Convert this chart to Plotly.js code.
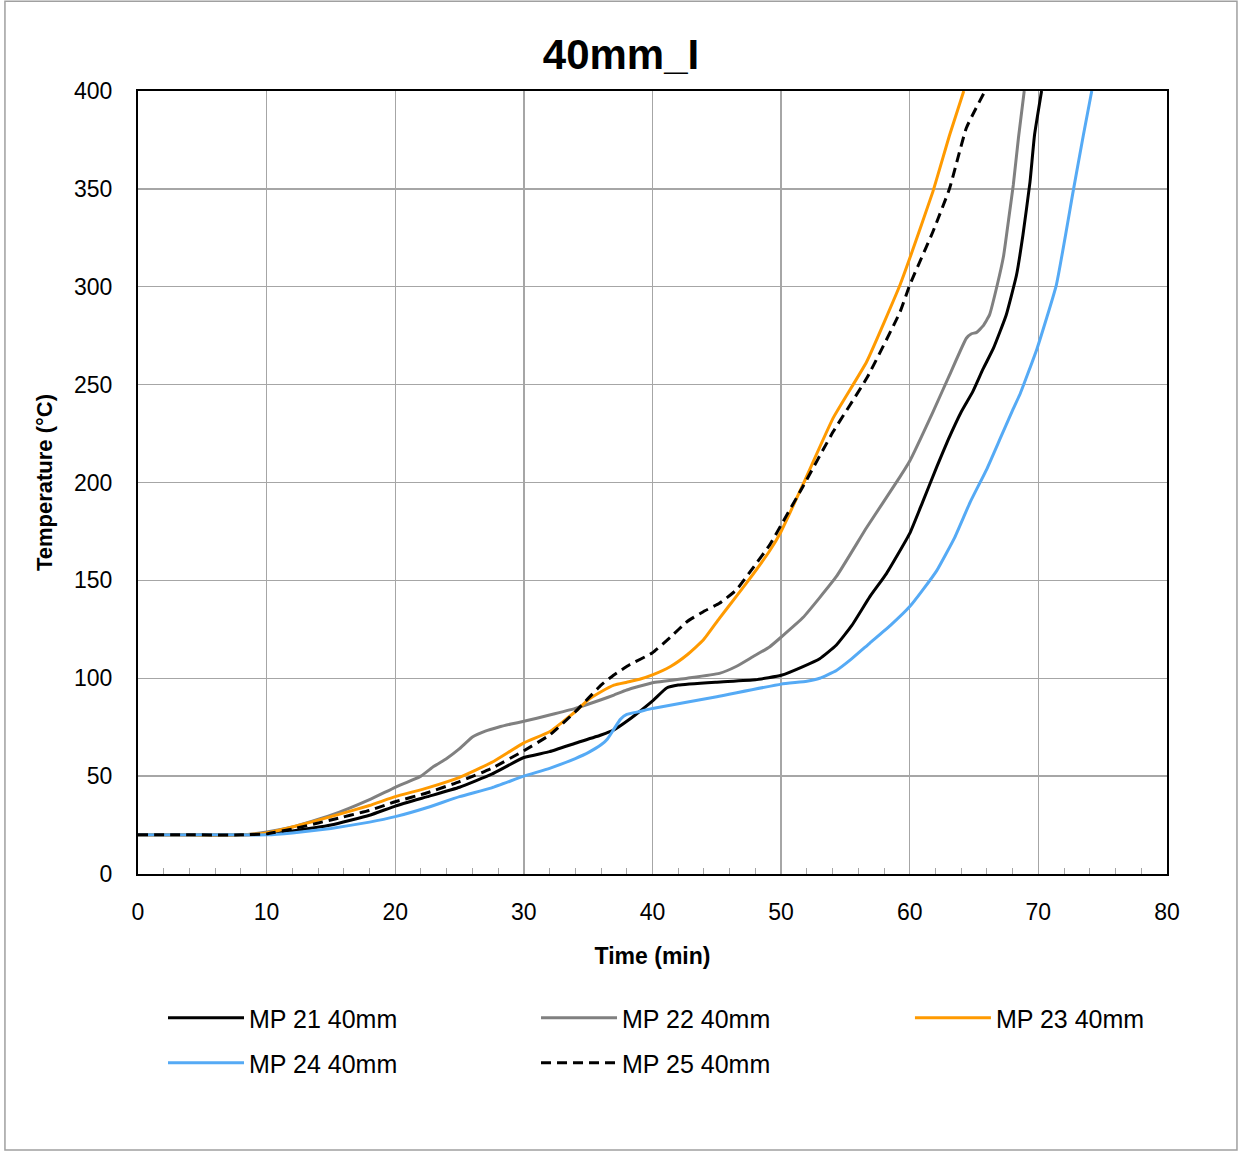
<!DOCTYPE html>
<html>
<head>
<meta charset="utf-8">
<script src="https://cdn.plot.ly/plotly-3.0.1.min.js"></script>
<style>
  html, body { margin: 0; padding: 0; background: #fff; }
  #chart { width: 1242px; height: 1153px; }
</style>
</head>
<body>
<div id="chart"></div>
<script>
// ---- data (time in min, temperature in °C) ----
const seriesNames = ["MP 21 40mm", "MP 22 40mm", "MP 23 40mm", "MP 24 40mm", "MP 25 40mm"];

const mp21_t = [0, 4, 8, 10, 12, 15, 18, 20, 22.5, 25, 27.5, 30, 32, 34, 36, 37, 38, 38.8, 40.1, 41.1, 42, 45, 48, 50, 51.7, 53, 54.3, 55.5, 56.9, 58.2, 60, 61, 62.1, 63, 64, 64.9, 65.7, 66.5, 67.5, 68.3, 68.8, 69.35, 69.7, 70.25];
const mp21_v = [20, 20, 20, 20.5, 22, 25, 30, 34.7, 39.5, 44.3, 51, 59.5, 62.5, 66.8, 71, 73.6, 78, 82, 89, 95, 96.5, 98, 99.2, 101.5, 106, 110, 117, 127, 141.7, 153.6, 174, 190, 208, 222, 236, 246.4, 258, 268.5, 285.6, 306, 326.4, 353.6, 377.5, 400];

const mp22_t = [0, 4, 8, 10, 12, 15, 18, 20, 22, 23, 24, 25, 26, 27, 28, 29, 30, 32, 34, 36, 37, 38, 40, 42.7, 45.2, 46.5, 47.8, 49.1, 50, 51.7, 54.3, 56.65, 59.25, 60, 61.8, 63.1, 64.4, 64.8, 65.2, 65.7, 66.2, 66.8, 67.3, 67.7, 68.05, 68.45, 68.9];
const mp22_v = [20, 20, 20, 21.5, 24, 30, 38, 44.3, 50, 55, 59, 64, 70, 73, 75, 76.6, 78, 81.2, 84.6, 89, 91.4, 94, 97.7, 100, 102.5, 106, 111, 116, 121, 131, 152, 177, 203, 211, 236, 255, 273.7, 276, 276.7, 280, 285.6, 300.9, 316, 335, 352, 376, 400];

const mp23_t = [0, 4, 8, 10, 12, 15, 18, 20, 22.5, 25, 27.5, 30, 32, 34, 35, 36, 37, 38, 39, 40, 41.4, 42.7, 43.95, 45.2, 46.5, 47.8, 49.1, 50, 51.7, 54.05, 56.65, 59.25, 60, 61.8, 63.1, 64.2];
const mp23_v = [20, 20, 20, 21, 24, 29.3, 35, 39.5, 44, 49.4, 57, 67, 72.7, 82.9, 89, 93.1, 96.5, 98, 99.5, 101.7, 106, 112, 119.5, 130.6, 141.7, 153, 165, 175, 199, 233, 261.7, 301, 314.5, 348.6, 377.5, 400];

const mp24_t = [0, 4, 8, 10, 12, 15, 18, 20, 22.5, 25, 27.5, 30, 32, 34, 35, 36, 36.5, 37, 37.5, 38, 39, 40, 45, 50, 52, 53, 54.3, 55.5, 56.9, 58.5, 60, 61, 62.1, 63.5, 64.7, 66, 67, 68, 68.6, 69.9, 71.4, 72.7, 73.5, 74.15];
const mp24_v = [20, 20, 20, 20, 21, 23.3, 26.5, 29.3, 34, 39.5, 44, 50, 54, 59, 62, 66, 69, 74, 79, 81.5, 83, 84.6, 90.6, 97, 98.5, 100, 104, 110, 118, 127, 136.6, 145, 155, 172, 190, 207, 222, 237, 245.6, 268.5, 301, 348.6, 377.5, 400];

const mp25_t = [0, 4, 8, 10, 12, 15, 18, 20, 22.5, 25, 27.5, 30, 32, 34, 35, 36, 37, 38.25, 40, 41.4, 42.7, 43.95, 45.2, 46.5, 47.8, 49.1, 50, 51.7, 54.05, 56.65, 59.25, 60, 61.8, 63.1, 64.4, 65.85];
const mp25_v = [20, 20, 20, 20.5, 23, 27.6, 32.5, 36.9, 41.5, 47.2, 54, 63, 71, 82.9, 89.7, 96.5, 101.7, 107, 113, 121, 129, 134, 138.3, 145, 156.3, 168, 178.3, 198, 226, 253.2, 287.2, 300.9, 328.1, 350.3, 381.1, 400];

const xTicks = [0, 10, 20, 30, 40, 50, 60, 70, 80];
const yTicks = [0, 50, 100, 150, 200, 250, 300, 350, 400];

// ---- styles ----
const colors = ["#000000", "#808080", "#FF9A00", "#55AAF5", "#000000"];
const dashes = ["solid", "solid", "solid", "solid", "10px,6px"];
const legendIds = ["legend", "legend2", "legend3", "legend4", "legend5"];
// legend slot positions (paper coords): columns and rows
const legendX = [0.0243, 0.3868, 0.7502, 0.0243, 0.3868];
const legendY = [(874 - 1018) / 783, (874 - 1018) / 783, (874 - 1018) / 783, (874 - 1063) / 783, (874 - 1063) / 783];
const xs = [mp21_t, mp22_t, mp23_t, mp24_t, mp25_t];
const ys = [mp21_v, mp22_v, mp23_v, mp24_v, mp25_v];

const FONT = "Liberation Sans Narrow, Arial Narrow, Liberation Sans, Arial, sans-serif";

const traces = seriesNames.map((n, i) => ({
  type: "scatter",
  mode: "lines",
  name: n,
  legend: legendIds[i],
  x: xs[i],
  y: ys[i],
  line: { color: colors[i], width: 3, dash: dashes[i], shape: "spline", smoothing: 0.4 },
  cliponaxis: true
}));

function legendCfg(xp, yp) {
  return {
    orientation: "h",
    x: xp, xanchor: "left",
    y: yp, yanchor: "middle",
    font: { family: FONT, size: 25, color: "#000" },
    itemwidth: 76,
    bgcolor: "rgba(0,0,0,0)"
  };
}

const layout = {
  width: 1242,
  height: 1153,
  paper_bgcolor: "#ffffff",
  plot_bgcolor: "#ffffff",
  margin: { l: 138, r: 75, t: 91, b: 279 },
  font: { family: FONT, color: "#000000", size: 22 },
  title: {
    text: "<b>40mm_I</b>",
    font: { family: FONT, size: 42, color: "#000000" },
    x: 0.5, xanchor: "center",
    y: 0.953, yanchor: "middle"
  },
  xaxis: {
    range: [0, 80],
    tickvals: xTicks,
    ticktext: xTicks.map(String),
    showgrid: true,
    gridcolor: "#A6A6A6",
    gridwidth: 1.3,
    zeroline: false,
    showline: true,
    linecolor: "#000000",
    linewidth: 2,
    mirror: true,
    ticks: "inside",
    ticklen: 6,
    tickcolor: "#A6A6A6",
    tickfont: { family: FONT, size: 23, color: "#000" },
    ticklabelstandoff: 16,
    minor: { dtick: 2, ticks: "inside", ticklen: 6, tickcolor: "#A6A6A6", showgrid: false },
    title: { text: "<b>Time (min)</b>", font: { family: FONT, size: 23, color: "#000" }, standoff: 24 }
  },
  yaxis: {
    range: [0, 400],
    tickvals: yTicks,
    ticktext: yTicks.map(String),
    showgrid: true,
    gridcolor: "#A6A6A6",
    gridwidth: 1.3,
    zeroline: false,
    showline: true,
    linecolor: "#000000",
    linewidth: 2,
    mirror: true,
    ticks: "",
    tickfont: { family: FONT, size: 23, color: "#000" },
    ticklabelstandoff: 19,
    title: { text: "<b>Temperature (°C)</b>", font: { family: FONT, size: 22, color: "#000" }, standoff: 15 }
  },
  showlegend: true,
  shapes: [{
    type: "rect", xref: "paper", yref: "paper",
    x0: -0.1293, x1: 1.068, y0: -0.3525, y1: 1.1145,
    line: { color: "#A0A0A0", width: 1.5 },
    fillcolor: "rgba(0,0,0,0)",
    layer: "below"
  }]
};
legendIds.forEach((id, i) => { layout[id] = legendCfg(legendX[i], legendY[i]); });

Plotly.newPlot("chart", traces, layout, { displayModeBar: false, staticPlot: true });
</script>
</body>
</html>
